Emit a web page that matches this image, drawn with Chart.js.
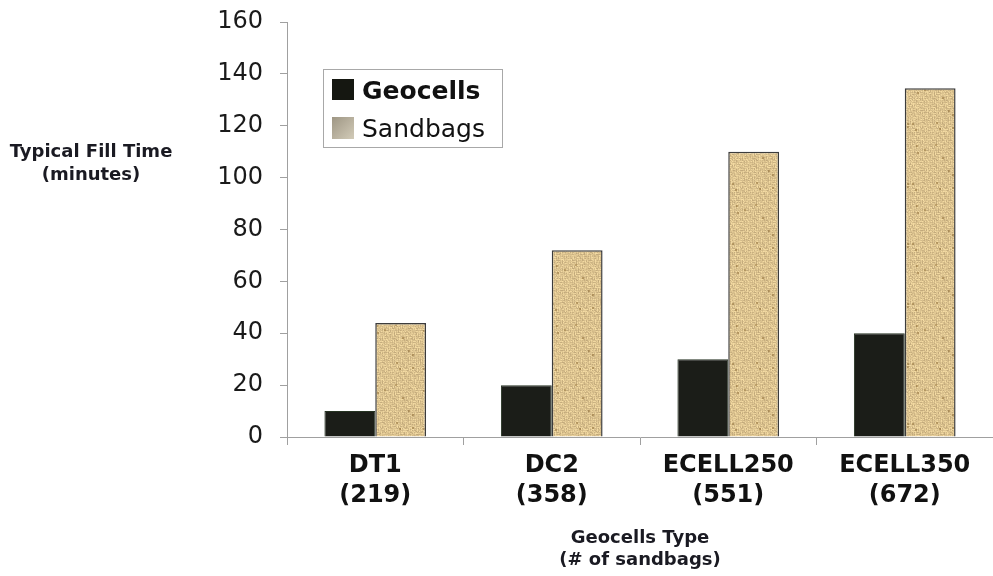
<!DOCTYPE html>
<html>
<head>
<meta charset="utf-8">
<script src="https://cdn.jsdelivr.net/npm/chart.js@4.4.1/dist/chart.umd.min.js"></script>
<style>
  html, body { margin: 0; padding: 0; background: #fff; }
  #wrap { width: 993px; height: 576px; position: relative; }
</style>
</head>
<body>
<div id="wrap"><canvas id="fillChart"></canvas></div>
<script>
// data
const categories = [['DT1', '(219)'], ['DC2', '(358)'], ['ECELL250', '(551)'], ['ECELL350', '(672)']];
const geocells = [10, 20, 30, 40];
const sandbags = [44, 72, 110, 134.5];
const yTitle = ['Typical Fill Time', '(minutes)'];
const xTitle = ['Geocells Type', '(# of sandbags)'];

const FONT = "'DejaVu Sans', 'Liberation Sans', sans-serif";

// burlap texture for the sandbag bars (deterministic noise)
function burlap() {
    const c = document.createElement('canvas');
    c.width = 60; c.height = 60;
    const g = c.getContext('2d');
    const h = (x, y) => { const s = Math.sin(x * 12.9898 + y * 78.233) * 43758.5453; return s - Math.floor(s); };
    for (let y = 0; y < 60; y++) {
        for (let x = 0; x < 60; x++) {
            // little woven threads: alternate horizontal / vertical blocks
            const blk = ((x >> 2) + (y >> 2)) % 2;
            const thread = blk ? (y % 2 ? 12 : -8) : (x % 2 ? 12 : -8);
            const n = (h(x, y) - 0.5) * 34 + thread;
            const r = 218 + n, gg = 193 + n, b = 142 + n * 0.8;
            g.fillStyle = `rgb(${Math.min(255, r) | 0},${Math.min(255, gg) | 0},${Math.min(255, b) | 0})`;
            g.fillRect(x, y, 1, 1);
        }
    }
    // a few darker flecks
    for (let i = 0; i < 16; i++) {
        const x = Math.floor(h(i, 3) * 58), y = Math.floor(h(7, i) * 58);
        g.fillStyle = 'rgba(140,105,50,0.5)';
        g.fillRect(x, y, 2, 2);
    }
    return g.createPattern(c, 'repeat');
}

const titleAndLegend = {
    id: 'titleAndLegend',
    afterDraw(chart) {
        const ctx = chart.ctx;
        ctx.save();
        // y title, horizontal on the left
        ctx.fillStyle = '#1a1a22';
        ctx.font = 'bold 18px ' + FONT;
        ctx.textAlign = 'center';
        ctx.textBaseline = 'middle';
        ctx.fillText(yTitle[0], 91, 152);
        ctx.fillText(yTitle[1], 91, 175);

        // legend box
        ctx.fillStyle = '#fff';
        ctx.fillRect(323, 69, 179, 78);
        ctx.strokeStyle = '#a8a8a8';
        ctx.lineWidth = 1;
        ctx.strokeRect(323.5, 69.5, 179, 78);
        ctx.fillStyle = '#151711';
        ctx.fillRect(332, 79, 22, 21);
        const lg = ctx.createLinearGradient(332, 117, 354, 139);
        lg.addColorStop(0, '#9e9684');
        lg.addColorStop(1, '#d2cbb8');
        ctx.fillStyle = lg;
        ctx.fillRect(332, 117, 22, 22);
        ctx.textAlign = 'left';
        ctx.textBaseline = 'alphabetic';
        ctx.fillStyle = '#111';
        ctx.font = 'bold 25px ' + FONT;
        ctx.fillText('Geocells', 362, 99);
        ctx.font = '25px ' + FONT;
        ctx.fillText('Sandbags', 362, 137);
        ctx.restore();
    }
};

const ctx = document.getElementById('fillChart').getContext('2d');
new Chart(ctx, {
    type: 'bar',
    data: {
        labels: categories,
        datasets: [
            { label: 'Geocells', data: geocells, backgroundColor: '#1b1d18', borderColor: '#263322', borderWidth: 1 },
            { label: 'Sandbags', data: sandbags, backgroundColor: burlap(), borderColor: '#3c3c3c', borderWidth: 1.5 }
        ]
    },
    options: {
        responsive: true, maintainAspectRatio: false, animation: false,
        layout: { padding: { top: 22, right: 0, bottom: 0, left: 0 } },
        datasets: { bar: { barPercentage: 1, categoryPercentage: 0.576 } },
        plugins: { legend: { display: false }, tooltip: { enabled: false } },
        scales: {
            x: {
                afterFit: s => { s.height = 139; s.paddingRight = 0; },
                grid: { drawOnChartArea: false, tickLength: 8, color: '#a0a0a0', offset: true },
                border: { color: '#a0a0a0' },
                ticks: { color: '#111', padding: 6, maxRotation: 0, font: { family: FONT, size: 24, weight: 'bold', lineHeight: 1.25 } },
                title: { display: true, text: xTitle, color: '#1a1a22', padding: { bottom: 5, top: 0 }, font: { family: FONT, size: 18, weight: 'bold', lineHeight: 1.2 } }
            },
            y: {
                min: 0, max: 160,
                afterFit: s => { s.width = 287; s.paddingTop = 0; s.paddingBottom = 0; },
                grid: { drawOnChartArea: false, tickLength: 7, color: '#a0a0a0' },
                border: { color: '#a0a0a0' },
                ticks: { stepSize: 20, color: '#1a1a1a', padding: 17, font: { family: FONT, size: 24 } }
            }
        }
    },
    plugins: [titleAndLegend]
});
</script>
</body>
</html>
